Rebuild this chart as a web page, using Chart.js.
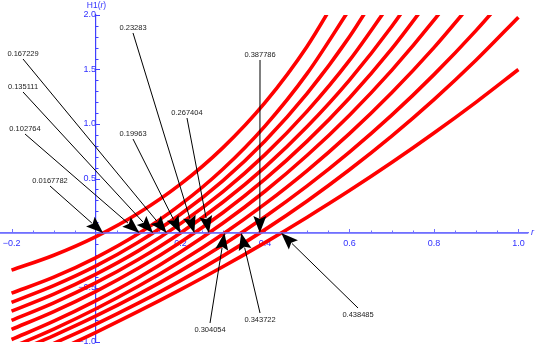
<!DOCTYPE html>
<html><head><meta charset="utf-8">
<script src="https://cdn.jsdelivr.net/npm/chart.js@4/dist/chart.umd.min.js"></script>
<style>html,body{margin:0;padding:0;background:#fff}#wrap{width:540px;height:348px;position:relative}</style>
</head><body><div id="wrap"><canvas id="c" width="540" height="348"></canvas></div>
<script>
// ---- data ----
const rValues = [-0.2, -0.1, 0, 0.1, 0.2, 0.3, 0.4, 0.5, 0.6, 0.7, 0.8, 0.9, 1.0];
const curve1  = [-0.341, -0.204, -0.033, 0.181, 0.448, 0.781, 1.196, 1.714, 2.362];
const curve2  = [-0.552, -0.405, -0.225, -0.007, 0.260, 0.585, 0.981, 1.464, 2.052];
const curve3  = [-0.636, -0.483, -0.302, -0.085, 0.172, 0.479, 0.845, 1.281, 1.800, 2.418];
const curve4  = [-0.717, -0.561, -0.377, -0.164, 0.086, 0.378, 0.719, 1.118, 1.583, 2.127];
const curve5  = [-0.802, -0.641, -0.456, -0.243, 0.001, 0.282, 0.605, 0.977, 1.403, 1.894, 2.459];
const curve6  = [-0.884, -0.721, -0.535, -0.324, -0.085, 0.186, 0.494, 0.843, 1.239, 1.689, 2.199];
const curve7  = [-0.977, -0.809, -0.620, -0.410, -0.174, 0.089, 0.383, 0.713, 1.081, 1.492, 1.952, 2.467];
const curve8  = [-1.049, -0.881, -0.695, -0.489, -0.262, -0.011, 0.267, 0.573, 0.912, 1.287, 1.701, 2.158];
const curve9  = [-1.107, -0.941, -0.761, -0.563, -0.347, -0.110, 0.149, 0.432, 0.742, 1.081, 1.453, 1.859, 2.303];
const curve10 = [-1.175, -1.012, -0.836, -0.644, -0.437, -0.212, 0.031, 0.294, 0.580, 0.889, 1.224, 1.587, 1.980];
const curve11 = [-1.265, -1.092, -0.911, -0.720, -0.520, -0.310, -0.088, 0.145, 0.389, 0.646, 0.917, 1.201, 1.500];
const curves = [curve1, curve2, curve3, curve4, curve5, curve6, curve7, curve8, curve9, curve10, curve11];

// annotated roots (arrow tips on the r axis) and their labels
const rootValues = [0.0167782, 0.102764, 0.135111, 0.167229, 0.19963, 0.23283, 0.267404, 0.304054, 0.343722, 0.387786, 0.438485];
const rootLabels = ['0.0167782', '0.102764', '0.135111', '0.167229', '0.19963', '0.23283', '0.267404', '0.304054', '0.343722', '0.387786', '0.438485'];
// arrow tails (label anchors) in data coordinates
const tailR = [-0.1089, -0.1681, -0.1728, -0.1728, 0.0876, 0.0876, 0.2154, 0.2699, 0.3883, 0.3883, 0.6203];
const tailH = [0.4312, 0.9083, 1.2936, 1.5963, 0.8624, 1.8349, 1.0550, -0.8257, -0.7339, 1.5872, -0.6881];

// tick values
const xMajorTicks = [-0.2, 0.2, 0.4, 0.6, 0.8, 1.0];
const yMajorTicks = [-1.0, -0.5, 0.5, 1.0, 1.5, 2.0];
const xMin = -0.2273, xMax = 1.0227, yMin = -1, yMax = 2;

// ---- build ----
const FONT = '"Liberation Sans", Arial, sans-serif';
const BLUE = '#3030ff';
function stepList(a, b, step) { const out = []; const n = Math.round((b - a) / step); for (let i = 0; i <= n; i++) out.push(+(a + i * step).toFixed(4)); return out; }
const xTickVals = stepList(-0.2, 1.0, 0.05);
const yTickVals = stepList(-1, 2, 0.1);
const isMajor = (v, list) => list.some(m => Math.abs(m - v) < 1e-6);
const fmt = v => v.toFixed(1).replace('-', '\u2212');

const datasets = curves.map(ys => ({
  data: ys.map((y, i) => ({x: rValues[i], y})),
  showLine: true, borderColor: '#ff0000', borderWidth: 3.6, pointRadius: 0,
  cubicInterpolationMode: 'monotone', fill: false, borderCapStyle: 'butt'
}));

const overlay = {
  id: 'overlay',
  beforeDatasetsDraw(chart) {
    // inward tick marks (Mathematica style)
    const ctx = chart.ctx, xs = chart.scales.x, ys = chart.scales.y;
    const x0 = xs.getPixelForValue(0), y0 = ys.getPixelForValue(0);
    ctx.save();
    ctx.lineWidth = 1;
    ctx.strokeStyle = '#7070ff';
    xs.ticks.forEach(t => {
      if (Math.abs(t.value) < 1e-9) return;
      const px = Math.round(xs.getPixelForValue(t.value)) + 0.5;
      const len = isMajor(t.value, xMajorTicks) ? 4 : 2.5;
      ctx.beginPath(); ctx.moveTo(px, y0); ctx.lineTo(px, y0 - len); ctx.stroke();
    });
    ctx.strokeStyle = '#4040ff';
    ys.ticks.forEach(t => {
      if (Math.abs(t.value) < 1e-9) return;
      const py = Math.round(ys.getPixelForValue(t.value)) + 0.5;
      const len = isMajor(t.value, yMajorTicks) ? 4 : 2.5;
      ctx.beginPath(); ctx.moveTo(x0, py); ctx.lineTo(x0 + len, py); ctx.stroke();
    });
    ctx.restore();
  },
  afterDatasetsDraw(chart) {
    const ctx = chart.ctx, xs = chart.scales.x, ys = chart.scales.y, ca = chart.chartArea;
    ctx.save();
    // r axis line on top of curves
    const y0 = ys.getPixelForValue(0);
    ctx.strokeStyle = '#7070ff'; ctx.lineWidth = 1.3;
    ctx.beginPath(); ctx.moveTo(ca.left, y0); ctx.lineTo(ca.right, y0); ctx.stroke();
    // arrows
    ctx.strokeStyle = '#000'; ctx.fillStyle = '#000'; ctx.lineWidth = 1;
    for (let i = 0; i < rootValues.length; i++) {
      const tipX = xs.getPixelForValue(rootValues[i]), tipY = y0;
      const tx = xs.getPixelForValue(tailR[i]), ty = ys.getPixelForValue(tailH[i]);
      const ang = Math.atan2(tipY - ty, tipX - tx), c = Math.cos(ang), s = Math.sin(ang);
      const L = 17, W = 6.5;
      const bx = tipX - L * c, by = tipY - L * s;
      ctx.fillStyle = '#000';
      ctx.beginPath(); ctx.moveTo(tx, ty); ctx.lineTo(bx + 2 * c, by + 2 * s); ctx.stroke();
      ctx.beginPath(); ctx.moveTo(tipX, tipY);
      ctx.lineTo(bx + W * s, by - W * c); ctx.lineTo(bx + 3 * c, by + 3 * s); ctx.lineTo(bx - W * s, by + W * c);
      ctx.closePath(); ctx.fill();
      ctx.font = '7.5px ' + FONT; ctx.fillStyle = '#222'; ctx.textAlign = 'center'; ctx.textBaseline = 'middle';
      ctx.fillText(rootLabels[i], tx, ty < tipY ? ty - 5 : ty + 7);
    }
    // axis titles
    const x0 = xs.getPixelForValue(0);
    ctx.fillStyle = BLUE; ctx.textBaseline = 'middle'; ctx.textAlign = 'left';
    const reg = '8.5px ' + FONT, ita = 'italic 8.5px ' + FONT;
    ctx.font = reg; const w1 = ctx.measureText('H1(').width, w3 = ctx.measureText(')').width;
    ctx.font = ita; const w2 = ctx.measureText('r').width;
    let sx = x0 - (w1 + w2 + w3) / 2 + 0.5; const ty0 = ca.top - 9;
    ctx.font = reg; ctx.fillText('H1(', sx, ty0); sx += w1;
    ctx.font = ita; ctx.fillText('r', sx, ty0); sx += w2;
    ctx.font = reg; ctx.fillText(')', sx, ty0);
    ctx.font = 'italic 9px ' + FONT; ctx.fillText('r', ca.right + 3, y0 - 1);
    ctx.restore();
  }
};

new Chart(document.getElementById('c'), {
  type: 'scatter',
  data: {datasets},
  options: {
    responsive: false, animation: false, devicePixelRatio: 1,
    layout: {padding: {left: 0, right: 12, top: 15, bottom: 6}},
    plugins: {legend: {display: false}, tooltip: {enabled: false}},
    scales: {
      x: {
        type: 'linear', min: xMin, max: xMax, position: {y: 0},
        afterBuildTicks: s => { s.ticks = xTickVals.map(v => ({value: v})); },
        ticks: {autoSkip: false, maxRotation: 0, padding: 0, color: BLUE, font: {size: 9, family: FONT},
          callback: v => (isMajor(v, xMajorTicks) ? fmt(v) : '')},
        grid: {drawOnChartArea: false, drawTicks: true, tickLength: 5, tickColor: 'rgba(0,0,0,0)', color: 'rgba(0,0,0,0)'},
        border: {display: true, color: '#7070ff', width: 1.3}
      },
      y: {
        type: 'linear', min: yMin, max: yMax, position: {x: 0},
        afterBuildTicks: s => { s.ticks = yTickVals.map(v => ({value: v})); },
        ticks: {autoSkip: false, padding: 0, color: BLUE, font: {size: 9, family: FONT},
          callback: v => (isMajor(v, yMajorTicks) ? fmt(v) : '')},
        grid: {drawOnChartArea: false, drawTicks: true, tickLength: 3, tickColor: 'rgba(0,0,0,0)', color: 'rgba(0,0,0,0)'},
        border: {display: true, color: '#4040ff', width: 1.2}
      }
    }
  },
  plugins: [overlay]
});
</script></body></html>
